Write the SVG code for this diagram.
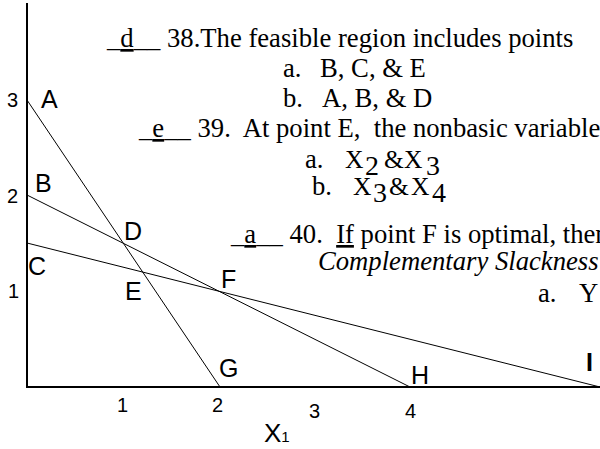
<svg xmlns="http://www.w3.org/2000/svg" width="600" height="449" viewBox="0 0 600 449">
<style>
.q{font-family:"Liberation Serif","Times New Roman",serif;font-size:26.67px;fill:#000}
.it{font-style:italic}
.x{font-size:25.5px}
.s{font-size:28px}
.lb{font-family:"Liberation Sans",Arial,sans-serif;font-size:25px;fill:#000}
.num{font-family:"Liberation Sans",Arial,sans-serif;font-size:20px;fill:#000}
.ax{stroke:#000;stroke-width:2;fill:none}
.cl{stroke:#000;stroke-width:1;fill:none}
.u{text-decoration:underline}
</style>
<rect width="600" height="449" fill="#fff"/>
<g id="axes">
<line class="ax" x1="27" y1="3" x2="27" y2="387"/>
<line class="ax" x1="26" y1="387" x2="600" y2="387"/>
</g>
<g id="connectors">
<line class="cl" x1="27" y1="100" x2="220" y2="387"/>
<line class="cl" x1="27" y1="195" x2="410" y2="387"/>
<line class="cl" x1="27" y1="243" x2="600" y2="387"/>
</g>
<g id="axis-numbers">
<text class="num" x="7" y="107">3</text>
<text class="num" x="7" y="203">2</text>
<text class="num" x="8" y="298">1</text>
<text class="num" x="117" y="412">1</text>
<text class="num" x="212" y="412">2</text>
<text class="num" x="309" y="418">3</text>
<text class="num" x="405" y="418">4</text>
<text class="lb" x="264" y="442" style="font-size:26px">X<tspan style="font-size:15px">1</tspan></text>
</g>
<g id="point-A"><text class="lb" x="41" y="108">A</text></g>
<g id="point-B"><text class="lb" x="35" y="192">B</text></g>
<g id="point-C"><text class="lb" x="28" y="275">C</text></g>
<g id="point-D"><text class="lb" x="124" y="240">D</text></g>
<g id="point-E"><text class="lb" x="125" y="300">E</text></g>
<g id="point-F"><text class="lb" x="221" y="288">F</text></g>
<g id="point-G"><text class="lb" x="219" y="377">G</text></g>
<g id="point-H"><text class="lb" x="411" y="384">H</text></g>
<g id="point-I"><text class="lb" x="586" y="371" style="font-weight:bold">I</text></g>
<g id="questions">
<text class="q" x="107" y="47" xml:space="preserve">_<tspan class="u">d</tspan>__ 38.The feasible region includes points</text>
<text class="q" x="283" y="77">a.</text>
<text class="q" x="320" y="77">B, C, &amp; E</text>
<text class="q" x="283" y="107">b.</text>
<text class="q" x="322" y="107">A, B, &amp; D</text>
<text class="q" x="139" y="137" xml:space="preserve">_<tspan class="u">e</tspan>__ 39.  At point E,  the nonbasic variable</text>
<text class="q" x="305" y="168">a.</text>
<text class="q x" x="345" y="168">X</text>
<text class="q s" x="365" y="175">2</text>
<text class="q x" x="384" y="168">&amp;</text>
<text class="q x" x="404" y="168">X</text>
<text class="q s" x="426" y="175">3</text>
<text class="q" x="312" y="195">b.</text>
<text class="q x" x="353" y="195">X</text>
<text class="q s" x="373" y="202">3</text>
<text class="q x" x="389" y="195">&amp;</text>
<text class="q x" x="411" y="195">X</text>
<text class="q s" x="432" y="202">4</text>
<text class="q" x="231" y="243" xml:space="preserve">_<tspan class="u">a</tspan>__ 40.  <tspan class="u">If</tspan> point F is optimal, then</text>
<text class="q it" x="318" y="270">Complementary Slackness</text>
<text class="q" x="538" y="302">a.</text>
<text class="q" x="579" y="302">Y</text>
</g>
</svg>
